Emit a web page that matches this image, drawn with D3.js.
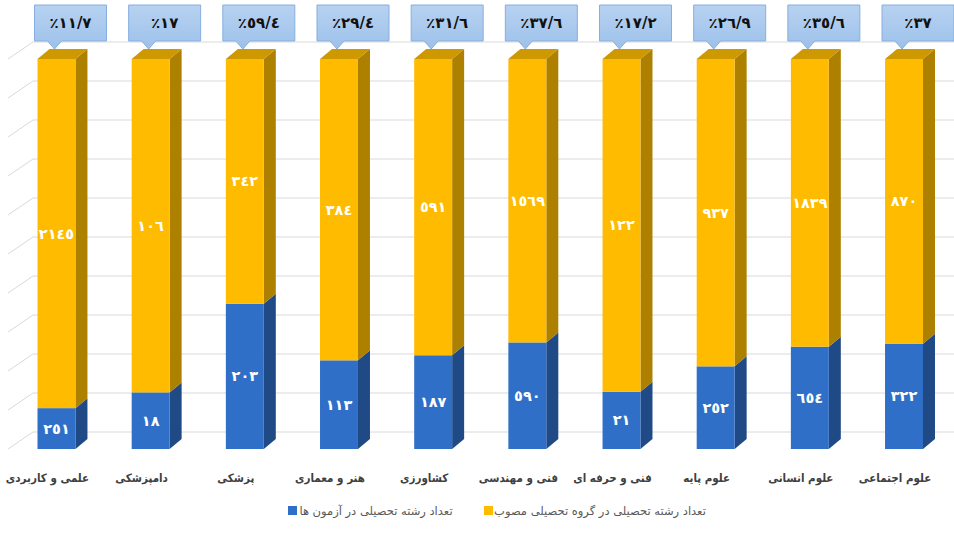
<!DOCTYPE html>
<html><head><meta charset="utf-8">
<script src="https://cdn.jsdelivr.net/npm/d3@7"></script>
<style>
html,body{margin:0;padding:0;background:#fff;}
svg{display:block;font-family:"DejaVu Sans",sans-serif;}
</style></head>
<body>
<svg id="chart" width="954" height="538"></svg>
<script>
// ---- data ----
const categories = ["علمی و کاربردی","دامپزشکی","پزشکی","هنر و معماری","کشاورزی","فنی و مهندسی","فنی و حرفه ای","علوم پایه","علوم انسانی","علوم اجتماعی"];
const examValues = [251, 18, 203, 113, 187, 590, 21, 252, 654, 322];
const approvedValues = [2145, 106, 342, 384, 591, 1569, 122, 937, 1839, 870];
const percentLabels = ["٪١١/٧","٪١٧","٪٥٩/٤","٪٢٩/٤","٪٣١/٦","٪٣٧/٦","٪١٧/٢","٪٢٦/٩","٪٣٥/٦","٪٣٧"];
const seriesNames = ["تعداد رشته تحصیلی در آزمون ها","تعداد رشته تحصیلی در گروه تحصیلی مصوب"];
const gridTicks = [0,0.1,0.2,0.3,0.4,0.5,0.6,0.7,0.8,0.9,1];

// ---- helpers ----
const toArabicDigits = s => String(s).replace(/[0-9]/g, d => "٠١٢٣٤٥٦٧٨٩"[d]);

const svg = d3.select("#chart");
const W = 954;

const x = d3.scaleBand().domain(categories).range([9.4, 951.1]).paddingInner(0.597).paddingOuter(0.2985);
const y = d3.scaleLinear().domain([0, 1]).range([449, 59]);

const depth = {dx: 12, dy: -10};     // bar depth
const wall = {dx: 25, dy: -17};      // back wall offset
const leftEdge = 8;

const rows = categories.map((c, i) => ({cat: c, exam: examValues[i], approved: approvedValues[i]}));
const stack = d3.stack().keys(["exam", "approved"]).offset(d3.stackOffsetExpand);
const series = stack(rows);

const colors = {
  exam: {front: "#2F6FC8", side: "#1F4A85", top: "#2A5FAA"},
  approved: {front: "#FFBB00", side: "#AE8000", top: "#CD9800"}
};

// ---- gridlines (back wall + left side wall) ----
const grid = svg.append("g");
gridTicks.forEach(t => {
  const yw = y(t) + wall.dy;
  grid.append("line").attr("x1", leftEdge + wall.dx).attr("x2", W).attr("y1", yw).attr("y2", yw)
    .attr("stroke", "#d9d9d9").attr("stroke-width", 1);
  grid.append("line").attr("x1", leftEdge).attr("y1", y(t)).attr("x2", leftEdge + wall.dx).attr("y2", yw)
    .attr("stroke", "#d9d9d9").attr("stroke-width", 1);
});

// ---- bars ----
const barsG = svg.append("g");
rows.forEach((r, i) => {
  const x0 = x(r.cat), bw = x.bandwidth(), xr = x0 + bw;
  const g = barsG.append("g");
  series.forEach(s => {
    const d = s[i];
    const yTop = y(d[1]), yBot = y(d[0]);
    const col = colors[s.key];
    g.append("polygon")
      .attr("points", [[xr, yBot], [xr + depth.dx, yBot + depth.dy], [xr + depth.dx, yTop + depth.dy], [xr, yTop]].join(" "))
      .attr("fill", col.side);
    g.append("rect").attr("x", x0).attr("y", yTop).attr("width", bw).attr("height", yBot - yTop).attr("fill", col.front);
  });
  const top = series[series.length - 1][i];
  const yT = y(top[1]);
  g.append("polygon")
    .attr("points", [[x0, yT], [x0 + depth.dx, yT + depth.dy], [xr + depth.dx, yT + depth.dy], [xr, yT]].join(" "))
    .attr("fill", colors[series[series.length - 1].key].top);

  series.forEach(s => {
    const d = s[i];
    const yc = (y(d[1]) + y(d[0])) / 2;
    g.append("text").attr("x", x0 + bw / 2).attr("y", yc).attr("dy", "0.35em")
      .attr("text-anchor", "middle").attr("fill", "#fff").attr("font-weight", "bold").attr("font-size", 14.5)
      .text(toArabicDigits(s.key === "exam" ? r.exam : r.approved));
  });
});

// ---- callouts ----
const defs = svg.append("defs");
const grad = defs.append("linearGradient").attr("id", "callGrad").attr("x1", 0).attr("y1", 0).attr("x2", 0).attr("y2", 1);
grad.append("stop").attr("offset", "0%").attr("stop-color", "#b7d2f1");
grad.append("stop").attr("offset", "100%").attr("stop-color", "#9dc1ea");

const callG = svg.append("g");
rows.forEach((r, i) => {
  const cx = x(r.cat) + x.bandwidth() / 2;
  const px = cx - 2, left = px - 20, topY = 5, bw = 72, bh = 36, tipY = 49;
  const path = `M${left},${topY}H${left + bw}V${topY + bh}H${px + 7}L${px},${tipY}L${px - 7},${topY + bh}H${left}Z`;
  callG.append("path").attr("d", path).attr("fill", "url(#callGrad)").attr("stroke", "#86aee0").attr("stroke-width", 1);
  callG.append("text").attr("x", left + bw / 2).attr("y", topY + bh / 2).attr("dy", "0.36em")
    .attr("text-anchor", "middle").attr("direction", "ltr").attr("font-weight", "bold").attr("font-size", 15).attr("fill", "#111")
    .text(percentLabels[i]);
});

// ---- category labels ----
svg.append("g").selectAll("text").data(categories).join("text")
  .attr("x", d => x(d) + x.bandwidth() / 2 - 9).attr("y", 478).attr("dy", "0.35em")
  .attr("text-anchor", "middle").attr("font-weight", "bold").attr("font-size", 11.5).attr("fill", "#404040")
  .attr("font-family", "'DejaVu Sans Condensed','DejaVu Sans',sans-serif")
  .attr("direction", "rtl")
  .text(d => d);

// ---- legend ----
const legend = svg.append("g");
const legendItems = [
  {name: seriesNames[0], color: colors.exam.front, sx: 288, tx: 376},
  {name: seriesNames[1], color: colors.approved.front, sx: 484, tx: 600}
];
legendItems.forEach(it => {
  legend.append("rect").attr("x", it.sx).attr("y", 506).attr("width", 9).attr("height", 9).attr("fill", it.color);
  legend.append("text").attr("x", it.tx).attr("y", 511).attr("dy", "0.35em").attr("text-anchor", "middle")
    .attr("direction", "rtl").attr("font-size", 11.5).attr("fill", "#595959").text(it.name);
});
</script>
</body></html>
